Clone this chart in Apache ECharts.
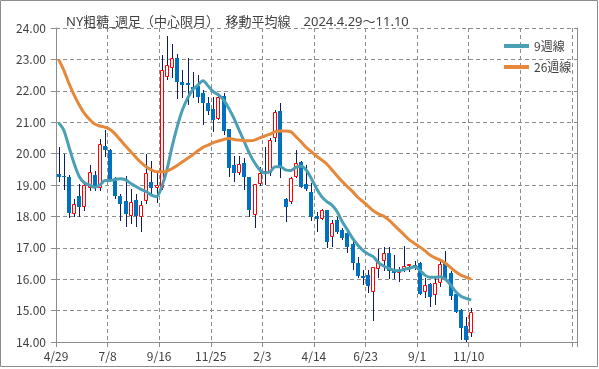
<!DOCTYPE html>
<html>
<head>
<meta charset="utf-8">
<script src="https://cdn.jsdelivr.net/npm/echarts@6/dist/echarts.min.js"></script>
<style>
html,body{margin:0;padding:0;background:#fff;}
#chart{width:599px;height:369px;}
</style>
</head>
<body>
<div id="chart"></div>
<script>
// ---- Data ----
const titleText = 'NY粗糖_週足（中心限月）　移動平均線　2024.4.29～11.10';
const tickLabels = ['4/29','7/8','9/16','11/25','2/3','4/14','6/23','9/1','11/10','',''];
const slotCount = 101; // weekly slots on the x axis (data fills the first 81)

const openVals = [19.35,19.30,19.24,18.07,18.66,18.31,18.92,19.33,18.92,20.25,
  20.12,19.13,18.66,18.50,18.02,18.52,17.97,18.50,19.10,18.90,
  18.92,22.43,22.72,23.03,22.27,22.24,22.11,22.15,21.92,21.60,
  21.42,21.09,21.84,20.79,19.64,19.37,19.69,19.26,18.06,19.02,
  19.40,19.37,20.51,21.36,18.54,18.47,19.26,19.72,19.03,18.78,
  18.01,17.93,18.20,17.33,17.90,17.57,17.46,17.12,16.53,16.10,
  16.12,15.60,16.31,16.59,16.84,16.27,16.19,16.31,16.42,16.45,
  16.53,15.60,15.85,15.49,15.87,16.51,16.19,15.53,15.02,14.51,
  14.28];
const highVals = [20.22,19.99,19.33,18.55,19.03,19.14,19.63,19.45,20.46,20.75,
  20.15,19.25,18.71,19.30,18.87,18.71,18.50,19.99,19.75,19.40,
  23.15,23.75,23.49,23.17,22.65,23.05,22.60,22.50,22.02,21.81,
  21.81,21.92,21.92,20.79,19.92,19.92,19.85,19.26,19.02,19.56,
  20.20,20.49,21.39,21.60,18.58,19.26,20.11,19.75,19.64,19.05,
  18.15,18.22,18.20,17.90,17.98,17.62,17.62,17.30,16.72,16.29,
  16.30,16.40,16.95,17.01,17.01,16.77,16.40,17.06,16.50,16.59,
  16.56,16.03,15.88,16.06,16.61,16.90,16.25,15.55,15.04,14.81,
  15.07];
const lowVals = [19.08,18.84,17.94,17.98,17.97,18.18,18.82,18.80,18.80,19.90,
  19.08,18.55,17.86,17.65,17.76,17.65,17.49,18.39,18.71,18.42,
  18.85,22.34,22.40,21.73,21.76,21.55,21.76,21.60,20.91,21.23,
  20.70,21.07,20.59,19.26,19.10,19.32,18.84,17.99,17.62,18.96,
  19.00,19.29,20.38,19.21,17.83,18.40,19.21,18.92,18.80,17.86,
  17.51,17.90,16.98,17.04,17.45,17.25,16.82,16.29,16.03,15.82,
  15.55,14.68,16.05,16.25,16.00,16.00,15.92,16.24,16.22,16.30,
  15.50,15.39,15.10,15.18,15.76,15.97,15.34,14.93,14.06,14.01,
  14.17];
const closeVals = [19.25,19.25,18.10,18.39,18.31,19.00,19.40,18.92,20.30,20.12,
  19.19,18.64,18.39,18.07,18.45,18.02,18.37,19.37,18.89,19.00,
  22.66,22.82,23.03,22.27,22.20,22.19,22.05,21.81,21.60,21.37,
  21.07,21.81,20.73,19.53,19.37,19.66,19.24,18.20,19.02,19.37,
  19.45,20.43,21.31,19.58,18.31,19.21,19.71,18.95,18.86,17.99,
  17.93,18.20,17.19,17.78,17.51,17.30,17.04,16.51,16.10,16.05,
  15.78,16.38,16.59,16.82,16.27,16.19,16.29,16.43,16.48,16.40,
  15.53,15.82,15.44,15.87,16.48,16.00,15.46,14.97,14.43,14.06,
  14.94];
const ma9 = [20.98,20.75,20.22,19.69,19.27,19.07,19.00,18.93,19.00,19.14,
  19.14,19.18,19.20,19.16,19.05,18.95,18.86,18.79,18.68,18.63,
  18.95,19.48,20.22,20.86,21.39,21.76,22.03,22.18,22.32,22.15,
  21.97,21.87,21.71,21.44,21.12,20.75,20.38,20.01,19.71,19.48,
  19.38,19.42,19.58,19.58,19.48,19.46,19.56,19.60,19.48,19.21,
  18.89,18.63,18.47,18.36,18.15,17.83,17.57,17.30,17.09,16.92,
  16.80,16.72,16.53,16.42,16.35,16.29,16.27,16.31,16.35,16.40,
  16.29,16.13,16.06,16.06,16.08,16.00,15.82,15.60,15.46,15.39,
  15.34];
const ma26 = [23.00,22.66,22.24,21.87,21.55,21.28,21.09,20.94,20.88,20.84,
  20.77,20.62,20.43,20.24,20.06,19.88,19.71,19.58,19.48,19.42,
  19.42,19.44,19.52,19.62,19.74,19.85,19.96,20.09,20.20,20.27,
  20.35,20.40,20.45,20.48,20.45,20.43,20.41,20.41,20.43,20.50,
  20.56,20.62,20.70,20.72,20.72,20.70,20.54,20.38,20.20,20.06,
  19.92,19.80,19.67,19.48,19.29,19.11,18.95,18.79,18.61,18.47,
  18.33,18.18,18.08,18.01,17.89,17.73,17.57,17.41,17.25,17.14,
  17.03,16.91,16.77,16.68,16.61,16.51,16.37,16.24,16.13,16.06,
  16.00];

// ---- Build library inputs ----
const categories = [];
for (let i = 0; i < slotCount; i++) categories.push(String(i));
const candleData = openVals.map((o, i) => [i, o, closeVals[i], lowVals[i], highVals[i]]);

const FONT = "'Noto Sans CJK JP', 'Noto Sans', sans-serif";
const gridColor = '#8c8c8c';

const chart = echarts.init(document.getElementById('chart'), null, {renderer: 'canvas'});
chart.setOption({
  animation: false,
  backgroundColor: '#ffffff',
  textStyle: {fontFamily: FONT},
  title: {
    text: titleText, left: 61, top: 7,
    textStyle: {fontSize: 13, lineHeight: 20, fontWeight: 'normal', color: '#404040', fontFamily: "'Noto Sans', 'Noto Sans CJK JP', sans-serif"}
  },
  legend: {
    orient: 'vertical', left: 499, top: 35, itemGap: 9,
    itemWidth: 25, itemHeight: 4, icon: 'rect',
    textStyle: {fontSize: 12, color: '#404040', fontFamily: FONT},
    data: ['9週線', '26週線']
  },
  grid: {left: 56, right: 22, top: 28, bottom: 27},
  xAxis: [
    {type: 'category', data: categories, boundaryGap: true, show: false},
    {type: 'value', min: 0, max: slotCount, interval: 10, position: 'bottom',
     axisLine: {show: true, lineStyle: {color: gridColor}},
     axisTick: {show: true, length: 5, lineStyle: {color: gridColor}},
     axisLabel: {show: true, margin: 8, fontSize: 12, color: '#404040', fontFamily: FONT,
       formatter: v => (v % 10 === 0 ? (tickLabels[v / 10] || '') : '')},
     splitLine: {show: true, lineStyle: {color: gridColor, type: [4, 3]}}}
  ],
  yAxis: [
    {type: 'value', min: 14, max: 24, interval: 1,
     axisLine: {show: true, lineStyle: {color: gridColor}},
     axisTick: {show: true, length: 5, lineStyle: {color: gridColor}},
     axisLabel: {margin: 10, fontSize: 12, color: '#404040', fontFamily: FONT,
       formatter: v => v.toFixed(2)},
     splitLine: {show: true, lineStyle: {color: gridColor, type: [4, 3]}}},
    {type: 'value', min: 14, max: 24, interval: 1, position: 'right',
     axisLine: {show: true, lineStyle: {color: gridColor}},
     axisTick: {show: false}, axisLabel: {show: false}, splitLine: {show: false}}
  ],
  graphic: [{
    type: 'rect', silent: true, z: 100,
    shape: {x: 0.5, y: 0.5, width: 597, height: 366},
    style: {fill: 'none', stroke: '#8c8c8c', lineWidth: 1}
  }],
  series: [
    {
      type: 'custom', name: 'candles', xAxisIndex: 0, yAxisIndex: 0, z: 2,
      data: candleData,
      encode: {x: 0, y: [1, 2, 3, 4]},
      renderItem: function (params, api) {
        const idx = api.value(0);
        const o = api.value(1), c = api.value(2), l = api.value(3), h = api.value(4);
        const cx = Math.round(api.coord([idx, o])[0]);
        const yTop = Math.round(api.coord([idx, Math.max(o, c)])[1]);
        const yBot = Math.round(api.coord([idx, Math.min(o, c)])[1]);
        const yH = Math.round(api.coord([idx, h])[1]);
        const yL = Math.round(api.coord([idx, l])[1]);
        const up = c > o;
        const children = [{
          type: 'line',
          shape: {x1: cx + 0.5, y1: yH, x2: cx + 0.5, y2: yL},
          style: {stroke: '#0a1f5c', lineWidth: 1}
        }];
        if (up) {
          children.push({
            type: 'rect',
            shape: {x: cx - 1.5, y: yTop + 0.5, width: 3, height: Math.max(yBot - yTop - 1, 1)},
            style: {fill: '#ffffff', stroke: '#ff0000', lineWidth: 1}
          });
        } else {
          children.push({
            type: 'rect',
            shape: {x: cx - 2, y: yTop, width: 4, height: Math.max(yBot - yTop, 1)},
            style: {fill: '#0070c0'}
          });
        }
        return {type: 'group', children: children};
      }
    },
    {
      type: 'line', name: '9週線', xAxisIndex: 0, yAxisIndex: 0, z: 3,
      data: ma9, symbol: 'none', smooth: 0.3,
      itemStyle: {color: '#4a9fb5'},
      lineStyle: {color: '#4a9fb5', width: 3}
    },
    {
      type: 'line', name: '26週線', xAxisIndex: 0, yAxisIndex: 0, z: 3,
      data: ma26, symbol: 'none', smooth: 0.3,
      itemStyle: {color: '#e5883a'},
      lineStyle: {color: '#e5883a', width: 3}
    }
  ]
});
</script>
</body>
</html>
